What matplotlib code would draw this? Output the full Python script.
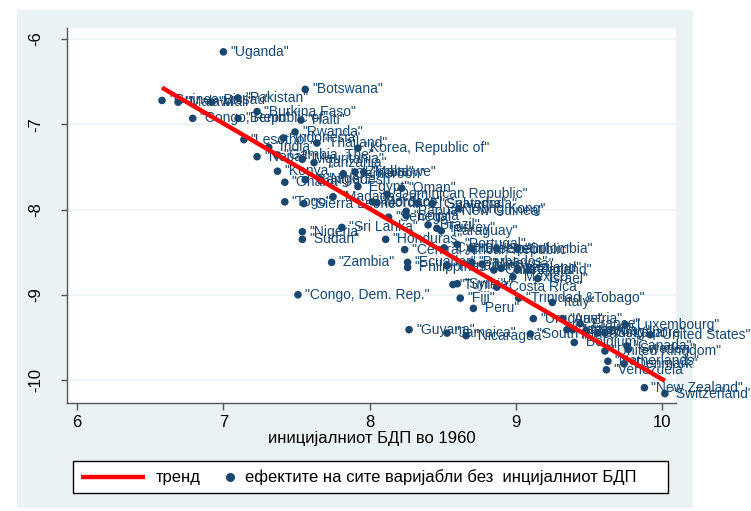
import matplotlib
matplotlib.use('Agg')
import matplotlib.pyplot as plt
from matplotlib.patches import Rectangle
from matplotlib.lines import Line2D

plt.rcParams['font.family'] = ['Liberation Sans', 'DejaVu Sans']

# countries, initial GDP 1960 (x) and effect of all other variables (y)
countries = ['Uganda', 'Botswana', 'Guinea-Bissau', 'Malawi', 'Mali', 'Pakistan',
             'Burkina Faso', 'Congo, Republic of', 'Benin', 'Haiti', 'Rwanda', 'Lesotho',
             'Indonesia', 'Thailand', 'Korea, Republic of', 'India', 'Nepal', 'Gambia, The',
             'Mauritania', 'Tanzania', 'Kenya', 'Cameroon', 'Zimbabwe', 'Malta', 'Ghana',
             'Bangladesh', 'Niger', 'Egypt', 'Oman', 'Dominican Republic', 'Madagascar',
             'Togo', 'Sierra Leone', 'Morocco', 'Jordan', 'El Salvador', 'Guatemala',
             'Hong Kong', 'Papua New Guinea', 'Bolivia', 'Senegal', 'Brazil', 'Turkey',
             'Paraguay', 'Sri Lanka', 'Nigeria', 'Sudan', 'Honduras',
             'Central African Republic', 'Portugal', 'Cyprus', 'Greece', 'Spain',
             'Colombia', 'Zambia', 'Ecuador', 'Philippines', 'Panama', 'Barbados',
             'Malaysia', 'Chile', 'Swaziland', 'Ireland', 'Finland', 'Mexico', 'Israel',
             'Tunisia', 'Syria', 'Costa Rica', 'Congo, Dem. Rep.', 'Fiji',
             'Trinidad &Tobago', 'Peru', 'Italy', 'Uruguay', 'Austria', 'Guyana',
             'Jamaica', 'Nicaragua', 'South Africa', 'Japan', 'Iceland', 'France',
             'Norway', 'Australia', 'Singapore', 'Belgium', 'Luxembourg', 'United States',
             'Canada', 'Sweden', 'United Kingdom', 'Netherlands', 'Denmark', 'Venezuela',
             'New Zealand', 'Switzerland']
gdp1960 = [7.00, 7.56, 6.58, 6.69, 6.92, 7.10,
           7.23, 6.79, 7.10, 7.53, 7.49, 7.14,
           7.41, 7.64, 7.92, 7.31, 7.23, 7.37,
           7.54, 7.62, 7.37, 7.82, 7.90, 7.96, 7.42,
           7.56, 7.66, 7.92, 8.22, 8.12, 7.75,
           7.42, 7.55, 8.02, 8.05, 8.33, 8.43,
           8.61, 8.25, 8.25, 8.13, 8.40, 8.46,
           8.49, 7.81, 7.54, 7.54, 8.11,
           8.24, 8.60, 8.51, 8.70, 8.87,
           9.01, 7.74, 8.26, 8.26, 8.53, 8.70,
           8.77, 8.85, 8.90, 9.01, 9.09, 8.98, 9.15,
           8.57, 8.60, 8.87, 7.51, 8.62,
           9.02, 8.71, 9.25, 9.12, 9.32, 8.27,
           8.53, 8.66, 9.10, 9.35, 9.39, 9.44,
           9.48, 9.56, 9.61, 9.40, 9.75, 9.92,
           9.76, 9.77, 9.61, 9.63, 9.74, 9.62,
           9.88, 10.02]
effects = [-6.15, -6.59, -6.72, -6.74, -6.74, -6.69,
           -6.85, -6.93, -6.93, -6.95, -7.09, -7.18,
           -7.16, -7.22, -7.28, -7.27, -7.38, -7.36,
           -7.41, -7.45, -7.55, -7.58, -7.56, -7.56, -7.68,
           -7.65, -7.64, -7.73, -7.75, -7.82, -7.85,
           -7.91, -7.93, -7.91, -7.92, -7.93, -7.93,
           -7.99, -8.02, -8.07, -8.09, -8.18, -8.22,
           -8.25, -8.21, -8.26, -8.35, -8.35,
           -8.47, -8.41, -8.45, -8.46, -8.46,
           -8.46, -8.62, -8.62, -8.68, -8.66, -8.62,
           -8.64, -8.71, -8.69, -8.71, -8.71, -8.79, -8.81,
           -8.88, -8.87, -8.91, -9.00, -9.04,
           -9.04, -9.16, -9.09, -9.28, -9.28, -9.41,
           -9.45, -9.48, -9.46, -9.41, -9.41, -9.34,
           -9.42, -9.45, -9.45, -9.56, -9.35, -9.47,
           -9.60, -9.64, -9.66, -9.78, -9.81, -9.88,
           -10.09, -10.16]

# fitted trend line end points
trend_x = [6.58, 10.02]
trend_y = [-6.57, -10.01]

xticks = [6, 7, 8, 9, 10]
yticks = [-6, -7, -8, -9, -10]

navy = '#1a476f'
bg = '#eaf2f3'
W, H = 751, 511

fig = plt.figure(figsize=(W / 100, H / 100), dpi=100)
fig.patch.set_facecolor('white')
fig.add_artist(Rectangle((17 / W, 1 - 508 / H), (693 - 17) / W, (508 - 10) / H,
                         transform=fig.transFigure, facecolor=bg, edgecolor='none', zorder=0))

ax = fig.add_axes([67 / W, 1 - 403 / H, (676 - 67) / W, (403 - 28) / H])
ax.set_facecolor('white')

ax.plot(trend_x, trend_y, color='red', lw=3.2, solid_capstyle='butt', zorder=4)
ax.scatter(gdp1960, effects, s=30, color=navy, edgecolors='none', zorder=3)
for name, x, y in zip(countries, gdp1960, effects):
    ax.annotate('"%s"' % name, (x, y), xytext=(5, 0), textcoords='offset points',
                va='center', ha='left', fontsize=10, color=navy, zorder=3,
                annotation_clip=False)

ax.set_xlim(5.93, 10.096)
ax.set_ylim(-10.27, -5.87)
ax.set_xticks(xticks)
ax.set_yticks(yticks)
ax.set_yticklabels([str(t) for t in yticks], rotation=90, va='center')
ax.grid(axis='y', color=bg, lw=1.2)
ax.set_axisbelow(True)
for s in ['top', 'right']:
    ax.spines[s].set_visible(False)
for s in ['left', 'bottom']:
    ax.spines[s].set_color('#555555')
    ax.spines[s].set_linewidth(1.0)
ax.tick_params(axis='x', length=5, width=1, color='#555555', labelsize=12, pad=3.5)
ax.tick_params(axis='y', length=4.5, width=1, color='#555555', labelsize=12, pad=12.5)
ax.set_xlabel('иницијалниот БДП во 1960', fontsize=12, labelpad=1)

# legend box
fig.add_artist(Rectangle((73 / W, 1 - 493 / H), (668 - 73) / W, (493 - 461) / H,
                         transform=fig.transFigure, facecolor='white', edgecolor='black',
                         lw=1.0, zorder=5))
fig.add_artist(Line2D([81 / W, 145 / W], [1 - 477 / H, 1 - 477 / H], color='red', lw=3.2,
                      solid_capstyle='butt', transform=fig.transFigure, zorder=6))
fig.text(156 / W, 1 - 477 / H, 'тренд', fontsize=12, va='center', ha='left', zorder=6)
fig.add_artist(Line2D([230 / W], [1 - 477 / H], marker='o', ms=5.5, color=navy, lw=0,
                      transform=fig.transFigure, zorder=6))
fig.text(245 / W, 1 - 477 / H, 'ефектите на сите варијабли без  инцијалниот БДП',
         fontsize=12, va='center', ha='left', zorder=6)

fig.savefig('out.png', dpi=100)
